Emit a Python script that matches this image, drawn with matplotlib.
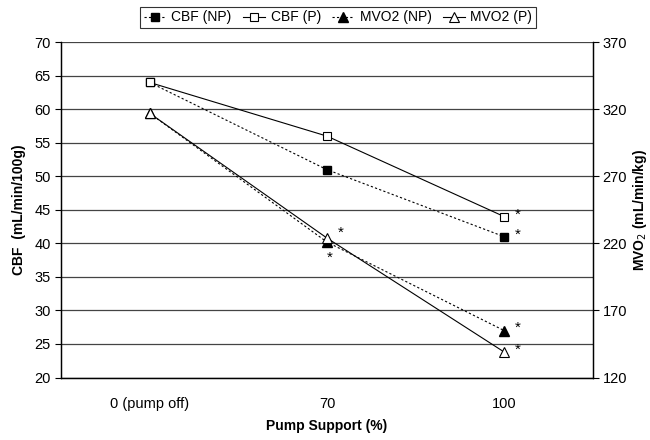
import matplotlib
matplotlib.use("Agg")
import matplotlib.pyplot as plt
import numpy as np

plt.rcParams['font.family'] = ['Liberation Sans', 'DejaVu Sans']

# categories and values
support = ['0 (pump off)', '70', '100']
cbf_np = [64.0, 51.0, 41.0]
cbf_p = [64.0, 56.0, 44.0]
mvo2_np = [317.0, 221.0, 155.0]
mvo2_p = [317.0, 224.0, 139.0]

# significance stars: (category index, CBF-scale value)
stars_x = [1.06, 1.0, 2.06, 2.06, 2.06, 2.06]
stars_y = [41.6, 37.9, 41.3, 44.3, 27.4, 24.2]

x = np.arange(len(support))

fig = plt.figure(figsize=(6.5, 4.4), dpi=100)
ax = fig.add_axes([0.094, 0.142, 0.818, 0.762])
ax2 = ax.twinx()

ax.set_xlim(-0.5, 2.5)
ax.set_ylim(20, 70)
ax2.set_ylim(120, 370)
ax.set_yticks(np.arange(20, 71, 5))
ax2.set_yticks(np.arange(120, 371, 50))
ax.yaxis.grid(True, color='#444444', lw=0.9)
ax.set_axisbelow(True)

l1, = ax.plot(x, cbf_np, color='k', lw=0.8, ls=(0, (2, 2)), marker='s', ms=6,
              mfc='k', mec='k', label='CBF (NP)')
l2, = ax.plot(x, cbf_p, color='k', lw=0.8, ls='-', marker='s', ms=6,
              mfc='white', mec='k', mew=0.8, label='CBF (P)')
l3, = ax2.plot(x, mvo2_np, color='k', lw=0.8, ls=(0, (2, 2)), marker='^', ms=7,
               mfc='k', mec='k', label='MVO2 (NP)')
l4, = ax2.plot(x, mvo2_p, color='k', lw=0.8, ls='-', marker='^', ms=7,
               mfc='white', mec='k', mew=0.8, label='MVO2 (P)')

for sx, sy in zip(stars_x, stars_y):
    ax.text(sx, sy, '*', fontsize=11, ha='left', va='center')

ax.set_xticks(x)
ax.set_xticklabels(support)
ax.tick_params(axis='x', length=0, pad=14, labelsize=10.5)
ax.tick_params(axis='y', direction='out', length=4, labelsize=10.5, width=0.8)
ax2.tick_params(axis='y', direction='out', length=4, pad=3, labelsize=10.5, width=0.8)

for a in (ax, ax2):
    a.spines['top'].set_visible(False)
    a.spines['left'].set_linewidth(0.9)
    a.spines['right'].set_linewidth(0.9)
    a.spines['bottom'].set_linewidth(0.9)

ax.set_xlabel('Pump Support (%)', fontweight='bold', fontsize=10, labelpad=6)
ax.set_ylabel('CBF  (mL/min/100g)', fontweight='bold', fontsize=10, labelpad=6)
ax2.set_ylabel('MVO$_2$ (mL/min/kg)', fontweight='bold', fontsize=10, labelpad=3)

leg = fig.legend(handles=[l1, l2, l3, l4], loc='upper center', ncol=4,
                 bbox_to_anchor=(0.52, 1.0), frameon=True, fancybox=False,
                 edgecolor='k', fontsize=10, handlelength=1.6, columnspacing=0.8,
                 handletextpad=0.4, borderpad=0.25)
leg.get_frame().set_linewidth(0.8)

fig.savefig('out.png', dpi=100)
